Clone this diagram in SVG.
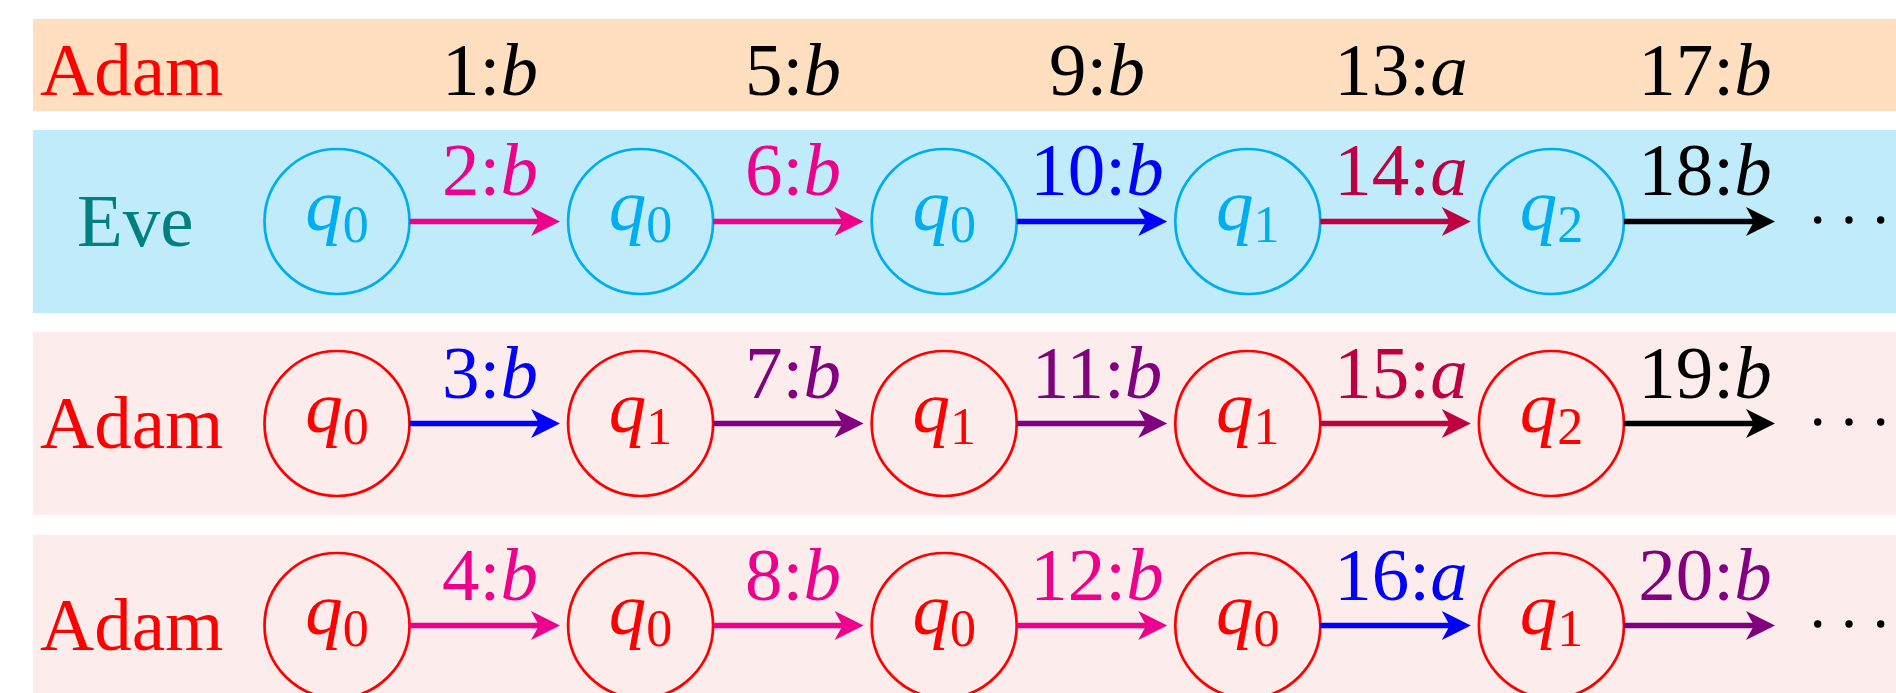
<svg xmlns="http://www.w3.org/2000/svg" width="1896" height="693" viewBox="0 0 1896 693">
<style>
text{font-family:"Liberation Serif","Times New Roman",serif;font-size:75px}
.i{font-style:italic}
.sub{font-size:52px}
.nc{fill:none;stroke:#00AEEF;stroke-width:2.7}
.nr{fill:none;stroke:#FF0000;stroke-width:2.7}
.tc{fill:#00AEEF}
.tr{fill:#FF0000}
.e{stroke-width:5.5;fill:none}
.mg{stroke:#EC008C}.bl{stroke:#0000FF}.pu{stroke:#BF0040}.vi{stroke:#800080}.bk{stroke:#000}
.fmg{fill:#EC008C}.fbl{fill:#0000FF}.fpu{fill:#BF0040}.fvi{fill:#800080}.fbk{fill:#000}
</style>
<defs>
<marker id="a-mg" markerUnits="userSpaceOnUse" viewBox="-10 -16 34 32" markerWidth="34" markerHeight="32" refX="0" refY="0" orient="auto"><path d="M21,0 L-8,-14.5 L0,0 L-8,14.5 Z" fill="#EC008C"/></marker>
<marker id="a-bl" markerUnits="userSpaceOnUse" viewBox="-10 -16 34 32" markerWidth="34" markerHeight="32" refX="0" refY="0" orient="auto"><path d="M21,0 L-8,-14.5 L0,0 L-8,14.5 Z" fill="#0000FF"/></marker>
<marker id="a-pu" markerUnits="userSpaceOnUse" viewBox="-10 -16 34 32" markerWidth="34" markerHeight="32" refX="0" refY="0" orient="auto"><path d="M21,0 L-8,-14.5 L0,0 L-8,14.5 Z" fill="#BF0040"/></marker>
<marker id="a-vi" markerUnits="userSpaceOnUse" viewBox="-10 -16 34 32" markerWidth="34" markerHeight="32" refX="0" refY="0" orient="auto"><path d="M21,0 L-8,-14.5 L0,0 L-8,14.5 Z" fill="#800080"/></marker>
<marker id="a-bk" markerUnits="userSpaceOnUse" viewBox="-10 -16 34 32" markerWidth="34" markerHeight="32" refX="0" refY="0" orient="auto"><path d="M21,0 L-8,-14.5 L0,0 L-8,14.5 Z" fill="#000"/></marker>
</defs>
<rect width="1896" height="693" fill="#FFFFFF"/>
<g id="bands">
<rect x="33" y="19" width="1863" height="92" fill="#FFDFBF"/>
<rect x="33" y="130" width="1863" height="183" fill="#BFEBFB"/>
<rect x="33" y="332" width="1863" height="183" fill="#FDECEC"/>
<rect x="33" y="535" width="1863" height="183" fill="#FDECEC"/>
</g>
<g id="row-labels">
<text x="40" y="95" fill="#FF0000">Adam</text>
<text x="77" y="246" fill="#008080">Eve</text>
<text x="40" y="448" fill="#FF0000">Adam</text>
<text x="40" y="650" fill="#FF0000">Adam</text>
</g>
<g id="adam-moves" fill="#000" text-anchor="middle">
<text x="490" y="95">1:<tspan class="i">b</tspan></text>
<text x="793" y="95">5:<tspan class="i">b</tspan></text>
<text x="1097" y="95">9:<tspan class="i">b</tspan></text>
<text x="1401" y="95">13:<tspan class="i">a</tspan></text>
<text x="1705" y="95">17:<tspan class="i">b</tspan></text>
</g>
<!-- Eve row nodes -->
<g id="e0"><circle class="nc" cx="337" cy="221.5" r="72.5"/><text class="tc" x="337" y="230" text-anchor="middle"><tspan class="i">q</tspan><tspan class="sub" dy="12">0</tspan></text></g>
<g id="e1"><circle class="nc" cx="640.6" cy="221.5" r="72.5"/><text class="tc" x="640.6" y="230" text-anchor="middle"><tspan class="i">q</tspan><tspan class="sub" dy="12">0</tspan></text></g>
<g id="e2"><circle class="nc" cx="944.2" cy="221.5" r="72.5"/><text class="tc" x="944.2" y="230" text-anchor="middle"><tspan class="i">q</tspan><tspan class="sub" dy="12">0</tspan></text></g>
<g id="e3"><circle class="nc" cx="1247.8" cy="221.5" r="72.5"/><text class="tc" x="1247.8" y="230" text-anchor="middle"><tspan class="i">q</tspan><tspan class="sub" dy="12">1</tspan></text></g>
<g id="e4"><circle class="nc" cx="1551.4" cy="221.5" r="72.5"/><text class="tc" x="1551.4" y="230" text-anchor="middle"><tspan class="i">q</tspan><tspan class="sub" dy="12">2</tspan></text></g>
<!-- Adam row 2 nodes -->
<g id="a0"><circle class="nr" cx="337" cy="423.5" r="72.5"/><text class="tr" x="337" y="432" text-anchor="middle"><tspan class="i">q</tspan><tspan class="sub" dy="12">0</tspan></text></g>
<g id="a1"><circle class="nr" cx="640.6" cy="423.5" r="72.5"/><text class="tr" x="640.6" y="432" text-anchor="middle"><tspan class="i">q</tspan><tspan class="sub" dy="12">1</tspan></text></g>
<g id="a2"><circle class="nr" cx="944.2" cy="423.5" r="72.5"/><text class="tr" x="944.2" y="432" text-anchor="middle"><tspan class="i">q</tspan><tspan class="sub" dy="12">1</tspan></text></g>
<g id="a3"><circle class="nr" cx="1247.8" cy="423.5" r="72.5"/><text class="tr" x="1247.8" y="432" text-anchor="middle"><tspan class="i">q</tspan><tspan class="sub" dy="12">1</tspan></text></g>
<g id="a4"><circle class="nr" cx="1551.4" cy="423.5" r="72.5"/><text class="tr" x="1551.4" y="432" text-anchor="middle"><tspan class="i">q</tspan><tspan class="sub" dy="12">2</tspan></text></g>
<!-- Adam row 3 nodes -->
<g id="b0"><circle class="nr" cx="337" cy="625.5" r="72.5"/><text class="tr" x="337" y="634" text-anchor="middle"><tspan class="i">q</tspan><tspan class="sub" dy="12">0</tspan></text></g>
<g id="b1"><circle class="nr" cx="640.6" cy="625.5" r="72.5"/><text class="tr" x="640.6" y="634" text-anchor="middle"><tspan class="i">q</tspan><tspan class="sub" dy="12">0</tspan></text></g>
<g id="b2"><circle class="nr" cx="944.2" cy="625.5" r="72.5"/><text class="tr" x="944.2" y="634" text-anchor="middle"><tspan class="i">q</tspan><tspan class="sub" dy="12">0</tspan></text></g>
<g id="b3"><circle class="nr" cx="1247.8" cy="625.5" r="72.5"/><text class="tr" x="1247.8" y="634" text-anchor="middle"><tspan class="i">q</tspan><tspan class="sub" dy="12">0</tspan></text></g>
<g id="b4"><circle class="nr" cx="1551.4" cy="625.5" r="72.5"/><text class="tr" x="1551.4" y="634" text-anchor="middle"><tspan class="i">q</tspan><tspan class="sub" dy="12">1</tspan></text></g>
<g id="connectors">
<!-- Eve row -->
<line class="e mg" x1="409.5" y1="221.5" x2="539" y2="221.5" marker-end="url(#a-mg)"/>
<line class="e mg" x1="713.1" y1="221.5" x2="842.6" y2="221.5" marker-end="url(#a-mg)"/>
<line class="e bl" x1="1016.7" y1="221.5" x2="1146.2" y2="221.5" marker-end="url(#a-bl)"/>
<line class="e pu" x1="1320.3" y1="221.5" x2="1449.8" y2="221.5" marker-end="url(#a-pu)"/>
<line class="e bk" x1="1623.9" y1="221.5" x2="1754" y2="221.5" marker-end="url(#a-bk)"/>
<!-- Adam row 2 -->
<line class="e bl" x1="409.5" y1="423.5" x2="539" y2="423.5" marker-end="url(#a-bl)"/>
<line class="e vi" x1="713.1" y1="423.5" x2="842.6" y2="423.5" marker-end="url(#a-vi)"/>
<line class="e vi" x1="1016.7" y1="423.5" x2="1146.2" y2="423.5" marker-end="url(#a-vi)"/>
<line class="e pu" x1="1320.3" y1="423.5" x2="1449.8" y2="423.5" marker-end="url(#a-pu)"/>
<line class="e bk" x1="1623.9" y1="423.5" x2="1754" y2="423.5" marker-end="url(#a-bk)"/>
<!-- Adam row 3 -->
<line class="e mg" x1="409.5" y1="625.5" x2="539" y2="625.5" marker-end="url(#a-mg)"/>
<line class="e mg" x1="713.1" y1="625.5" x2="842.6" y2="625.5" marker-end="url(#a-mg)"/>
<line class="e mg" x1="1016.7" y1="625.5" x2="1146.2" y2="625.5" marker-end="url(#a-mg)"/>
<line class="e bl" x1="1320.3" y1="625.5" x2="1449.8" y2="625.5" marker-end="url(#a-bl)"/>
<line class="e vi" x1="1623.9" y1="625.5" x2="1754" y2="625.5" marker-end="url(#a-vi)"/>
<!-- edge labels -->
<g text-anchor="middle">
<text class="fmg" x="490" y="195">2:<tspan class="i">b</tspan></text>
<text class="fmg" x="793" y="195">6:<tspan class="i">b</tspan></text>
<text class="fbl" x="1097" y="195">10:<tspan class="i">b</tspan></text>
<text class="fpu" x="1401" y="195">14:<tspan class="i">a</tspan></text>
<text class="fbk" x="1705" y="195">18:<tspan class="i">b</tspan></text>
<text class="fbl" x="490" y="398">3:<tspan class="i">b</tspan></text>
<text class="fvi" x="793" y="398">7:<tspan class="i">b</tspan></text>
<text class="fvi" x="1097" y="398">11:<tspan class="i">b</tspan></text>
<text class="fpu" x="1401" y="398">15:<tspan class="i">a</tspan></text>
<text class="fbk" x="1705" y="398">19:<tspan class="i">b</tspan></text>
<text class="fmg" x="490" y="600">4:<tspan class="i">b</tspan></text>
<text class="fmg" x="793" y="600">8:<tspan class="i">b</tspan></text>
<text class="fmg" x="1097" y="600">12:<tspan class="i">b</tspan></text>
<text class="fbl" x="1401" y="600">16:<tspan class="i">a</tspan></text>
<text class="fvi" x="1705" y="600">20:<tspan class="i">b</tspan></text>
</g>
</g>
<g id="ellipses" fill="#000">
<circle cx="1817.7" cy="220" r="3.7"/><circle cx="1849" cy="220" r="3.7"/><circle cx="1880.7" cy="220" r="3.7"/>
<circle cx="1817.7" cy="422" r="3.7"/><circle cx="1849" cy="422" r="3.7"/><circle cx="1880.7" cy="422" r="3.7"/>
<circle cx="1817.7" cy="624" r="3.7"/><circle cx="1849" cy="624" r="3.7"/><circle cx="1880.7" cy="624" r="3.7"/>
</g>
</svg>
